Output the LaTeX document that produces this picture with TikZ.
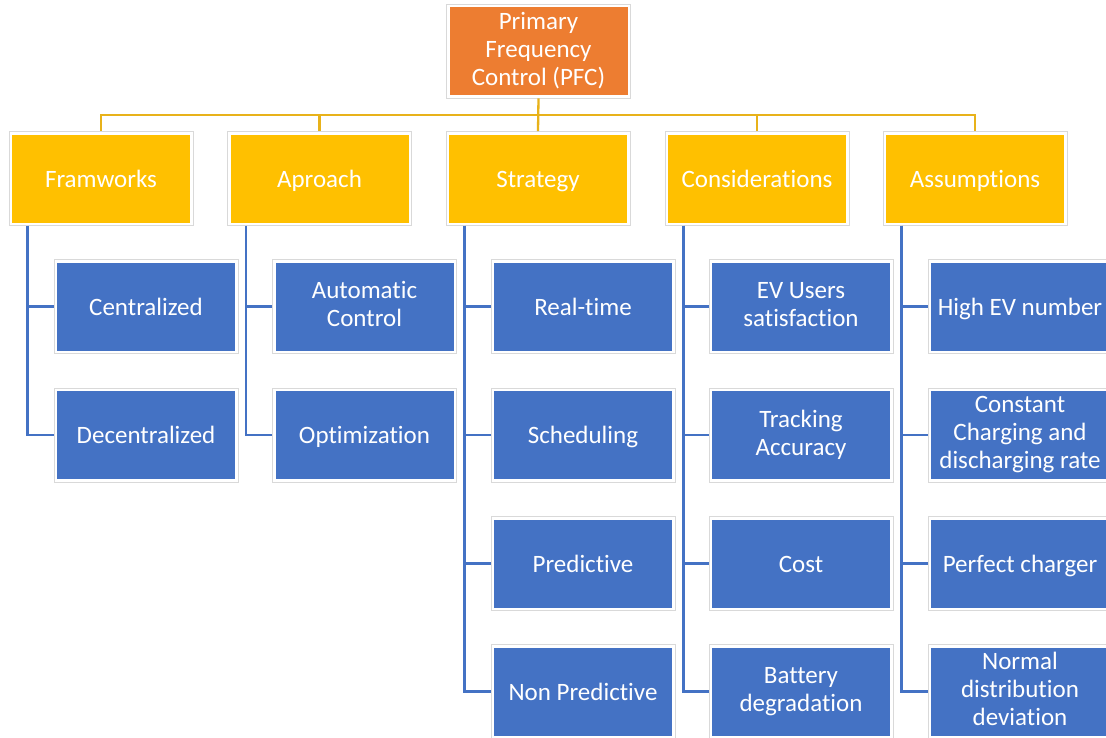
\documentclass[tikz,border=0pt]{standalone}
\usepackage{fontspec}
\newfontfamily\boxfont[Ligatures=NoCommon]{Carlito}
\definecolor{orangeC}{HTML}{ED7D31}
\definecolor{yellowC}{HTML}{FFC000}
\definecolor{blueC}{HTML}{4472C4}
\definecolor{ylineC}{HTML}{E8B21A}
\tikzset{
  box/.style={minimum width=184pt, minimum height=94pt, inner sep=0pt,
    draw=gray!30, line width=0.8pt, fill=white, text=white, align=center,
    font=\boxfont\fontsize{25}{28}\selectfont,
    execute at begin node=\rule{0pt}{22pt}, execute at end node=\rule[-5pt]{0pt}{0pt},
    path picture={\fill[#1] ([shift={(3pt,3pt)}]path picture bounding box.south west)
      rectangle ([shift={(-3pt,-3pt)}]path picture bounding box.north east);}},
  yline/.style={draw=ylineC, line width=2.3pt},
  bline/.style={draw=blueC, line width=2.3pt},
}
\begin{document}
\begin{tikzpicture}[x=1pt,y=-1pt]
\useasboundingbox (0,0) rectangle (1106,737);
\clip (0,0) rectangle (1106,737);
% root
\node[box=orangeC] (root) at (538.5,51) {Primary\\Frequency\\Control (PFC)};
% level 1
\node[box=yellowC] (c1) at (101,178.5) {Framworks};
\node[box=yellowC] (c2) at (319.5,178.5) {Aproach};
\node[box=yellowC] (c3) at (538,178.5) {Strategy};
\node[box=yellowC] (c4) at (757,178.5) {Considerations};
\node[box=yellowC] (c5) at (975,178.5) {Assumptions};
% level 2
\node[box=blueC] (n11) at (146,306.5) {Centralized};
\node[box=blueC] (n12) at (146,435) {Decentralized};
\node[box=blueC] (n21) at (364.5,306.5) {Automatic\\Control};
\node[box=blueC] (n22) at (364.5,435) {Optimization};
\node[box=blueC] (n31) at (583,306.5) {Real-time};
\node[box=blueC] (n32) at (583,435) {Scheduling};
\node[box=blueC] (n33) at (583,563.5) {Predictive};
\node[box=blueC] (n34) at (583,691.5) {Non Predictive};
\node[box=blueC] (n41) at (801,306.5) {EV Users\\satisfaction};
\node[box=blueC] (n42) at (801,435) {Tracking\\Accuracy};
\node[box=blueC] (n43) at (801,563.5) {Cost};
\node[box=blueC] (n44) at (801,691.5) {Battery\\degradation};
\node[box=blueC] (n51) at (1020,306.5) {High EV number};
\node[box=blueC] (n52) at (1020,435) {Constant\\Charging and\\discharging rate};
\node[box=blueC] (n53) at (1020,563.5) {Perfect charger};
\node[box=blueC] (n54) at (1020,691.5) {Normal\\distribution\\deviation};
% yellow bus
\coordinate (bus) at (538.5,115);
\draw[yline] (root.south) -- (c3.north);
\foreach \c in {c1,c2,c4,c5} \draw[yline] (bus) -| (\c.north);
% blue connectors
\foreach \p/\kids in {c1/{n11,n12}, c2/{n21,n22}, c3/{n31,n32,n33,n34}, c4/{n41,n42,n43,n44}, c5/{n51,n52,n53,n54}}{
  \foreach \k in \kids \draw[bline] ([xshift=19pt]\p.south west) |- (\k.west);
}
\end{tikzpicture}
\end{document}
